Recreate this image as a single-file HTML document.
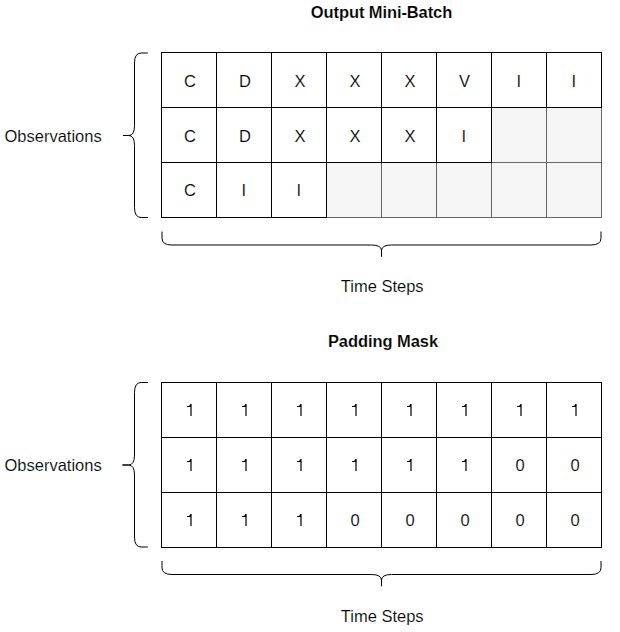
<!DOCTYPE html>
<html><head><meta charset="utf-8"><style>
html,body{margin:0;padding:0;background:#fff;}
svg{display:block;}
text{font-family:"Liberation Sans",sans-serif;font-size:16.5px;fill:#000;stroke:#fff;stroke-width:0.15px;}
</style></head><body>
<svg width="620" height="632" viewBox="0 0 620 632">
<rect width="620" height="632" fill="#fff"/>
<text x="381.5" y="17.7" text-anchor="middle" font-weight="bold" letter-spacing="-0.1">Output Mini-Batch</text>
<rect x="491.5" y="107.5" width="55" height="55" fill="#f5f5f5" stroke="#666"/>
<rect x="546.5" y="107.5" width="55" height="55" fill="#f5f5f5" stroke="#666"/>
<rect x="326.5" y="162.5" width="55" height="55" fill="#f5f5f5" stroke="#666"/>
<rect x="381.5" y="162.5" width="55" height="55" fill="#f5f5f5" stroke="#666"/>
<rect x="436.5" y="162.5" width="55" height="55" fill="#f5f5f5" stroke="#666"/>
<rect x="491.5" y="162.5" width="55" height="55" fill="#f5f5f5" stroke="#666"/>
<rect x="546.5" y="162.5" width="55" height="55" fill="#f5f5f5" stroke="#666"/>
<rect x="161.5" y="52.5" width="55" height="55" fill="#fff" stroke="#000"/>
<rect x="216.5" y="52.5" width="55" height="55" fill="#fff" stroke="#000"/>
<rect x="271.5" y="52.5" width="55" height="55" fill="#fff" stroke="#000"/>
<rect x="326.5" y="52.5" width="55" height="55" fill="#fff" stroke="#000"/>
<rect x="381.5" y="52.5" width="55" height="55" fill="#fff" stroke="#000"/>
<rect x="436.5" y="52.5" width="55" height="55" fill="#fff" stroke="#000"/>
<rect x="491.5" y="52.5" width="55" height="55" fill="#fff" stroke="#000"/>
<rect x="546.5" y="52.5" width="55" height="55" fill="#fff" stroke="#000"/>
<rect x="161.5" y="107.5" width="55" height="55" fill="#fff" stroke="#000"/>
<rect x="216.5" y="107.5" width="55" height="55" fill="#fff" stroke="#000"/>
<rect x="271.5" y="107.5" width="55" height="55" fill="#fff" stroke="#000"/>
<rect x="326.5" y="107.5" width="55" height="55" fill="#fff" stroke="#000"/>
<rect x="381.5" y="107.5" width="55" height="55" fill="#fff" stroke="#000"/>
<rect x="436.5" y="107.5" width="55" height="55" fill="#fff" stroke="#000"/>
<rect x="161.5" y="162.5" width="55" height="55" fill="#fff" stroke="#000"/>
<rect x="216.5" y="162.5" width="55" height="55" fill="#fff" stroke="#000"/>
<rect x="271.5" y="162.5" width="55" height="55" fill="#fff" stroke="#000"/>
<text x="190.0" y="87.0" text-anchor="middle">C</text>
<text x="245.0" y="87.0" text-anchor="middle">D</text>
<text x="300.0" y="87.0" text-anchor="middle">X</text>
<text x="355.0" y="87.0" text-anchor="middle">X</text>
<text x="410.0" y="87.0" text-anchor="middle">X</text>
<text x="464.5" y="87.0" text-anchor="middle">V</text>
<text x="518.7" y="87.0" text-anchor="middle">I</text>
<text x="573.7" y="87.0" text-anchor="middle">I</text>
<text x="190.0" y="142.0" text-anchor="middle">C</text>
<text x="245.0" y="142.0" text-anchor="middle">D</text>
<text x="300.0" y="142.0" text-anchor="middle">X</text>
<text x="355.0" y="142.0" text-anchor="middle">X</text>
<text x="410.0" y="142.0" text-anchor="middle">X</text>
<text x="463.7" y="142.0" text-anchor="middle">I</text>
<text x="190.0" y="196.0" text-anchor="middle">C</text>
<text x="243.7" y="196.0" text-anchor="middle">I</text>
<text x="298.7" y="196.0" text-anchor="middle">I</text>
<path d="M147.8,53.0 L141.15,53.0 Q134.5,53.0 134.5,63.0 L134.5,125.5 Q134.5,135.5 128.75,135.5 L123,135.5 M123,135.5 L128.75,135.5 Q134.5,135.5 134.5,145.5 L134.5,207.5 Q134.5,217.5 141.15,217.5 L147.8,217.5" fill="none" stroke="#000" stroke-width="1"/>
<path d="M162,231.5 L162,238.25 Q162,245.0 172,245.0 L371.5,245.0 Q381.5,245.0 381.5,250.75 L381.5,256.5 M381.5,256.5 L381.5,250.75 Q381.5,245.0 391.5,245.0 L591,245.0 Q601,245.0 601,238.25 L601,231.5" fill="none" stroke="#000" stroke-width="1"/>
<text x="4.5" y="141.8">Observations</text>
<text x="382.2" y="291.5" text-anchor="middle">Time Steps</text>
<text x="383" y="347.0" text-anchor="middle" font-weight="bold" letter-spacing="-0.07">Padding Mask</text>
<rect x="161.5" y="382.5" width="55" height="55" fill="#fff" stroke="#000"/>
<rect x="216.5" y="382.5" width="55" height="55" fill="#fff" stroke="#000"/>
<rect x="271.5" y="382.5" width="55" height="55" fill="#fff" stroke="#000"/>
<rect x="326.5" y="382.5" width="55" height="55" fill="#fff" stroke="#000"/>
<rect x="381.5" y="382.5" width="55" height="55" fill="#fff" stroke="#000"/>
<rect x="436.5" y="382.5" width="55" height="55" fill="#fff" stroke="#000"/>
<rect x="491.5" y="382.5" width="55" height="55" fill="#fff" stroke="#000"/>
<rect x="546.5" y="382.5" width="55" height="55" fill="#fff" stroke="#000"/>
<rect x="161.5" y="437.5" width="55" height="55" fill="#fff" stroke="#000"/>
<rect x="216.5" y="437.5" width="55" height="55" fill="#fff" stroke="#000"/>
<rect x="271.5" y="437.5" width="55" height="55" fill="#fff" stroke="#000"/>
<rect x="326.5" y="437.5" width="55" height="55" fill="#fff" stroke="#000"/>
<rect x="381.5" y="437.5" width="55" height="55" fill="#fff" stroke="#000"/>
<rect x="436.5" y="437.5" width="55" height="55" fill="#fff" stroke="#000"/>
<rect x="491.5" y="437.5" width="55" height="55" fill="#fff" stroke="#000"/>
<rect x="546.5" y="437.5" width="55" height="55" fill="#fff" stroke="#000"/>
<rect x="161.5" y="492.5" width="55" height="55" fill="#fff" stroke="#000"/>
<rect x="216.5" y="492.5" width="55" height="55" fill="#fff" stroke="#000"/>
<rect x="271.5" y="492.5" width="55" height="55" fill="#fff" stroke="#000"/>
<rect x="326.5" y="492.5" width="55" height="55" fill="#fff" stroke="#000"/>
<rect x="381.5" y="492.5" width="55" height="55" fill="#fff" stroke="#000"/>
<rect x="436.5" y="492.5" width="55" height="55" fill="#fff" stroke="#000"/>
<rect x="491.5" y="492.5" width="55" height="55" fill="#fff" stroke="#000"/>
<rect x="546.5" y="492.5" width="55" height="55" fill="#fff" stroke="#000"/>
<path d="M191.60,416.00 L190.40,416.00 L190.40,407.00 L187.10,407.00 L187.10,406.00 L188.60,406.00 Q189.60,405.60 190.40,403.90 L191.60,403.90 Z" fill="#000"/>
<path d="M246.60,416.00 L245.40,416.00 L245.40,407.00 L242.10,407.00 L242.10,406.00 L243.60,406.00 Q244.60,405.60 245.40,403.90 L246.60,403.90 Z" fill="#000"/>
<path d="M301.60,416.00 L300.40,416.00 L300.40,407.00 L297.10,407.00 L297.10,406.00 L298.60,406.00 Q299.60,405.60 300.40,403.90 L301.60,403.90 Z" fill="#000"/>
<path d="M356.60,416.00 L355.40,416.00 L355.40,407.00 L352.10,407.00 L352.10,406.00 L353.60,406.00 Q354.60,405.60 355.40,403.90 L356.60,403.90 Z" fill="#000"/>
<path d="M411.60,416.00 L410.40,416.00 L410.40,407.00 L407.10,407.00 L407.10,406.00 L408.60,406.00 Q409.60,405.60 410.40,403.90 L411.60,403.90 Z" fill="#000"/>
<path d="M466.60,416.00 L465.40,416.00 L465.40,407.00 L462.10,407.00 L462.10,406.00 L463.60,406.00 Q464.60,405.60 465.40,403.90 L466.60,403.90 Z" fill="#000"/>
<path d="M521.60,416.00 L520.40,416.00 L520.40,407.00 L517.10,407.00 L517.10,406.00 L518.60,406.00 Q519.60,405.60 520.40,403.90 L521.60,403.90 Z" fill="#000"/>
<path d="M576.60,416.00 L575.40,416.00 L575.40,407.00 L572.10,407.00 L572.10,406.00 L573.60,406.00 Q574.60,405.60 575.40,403.90 L576.60,403.90 Z" fill="#000"/>
<path d="M191.60,471.00 L190.40,471.00 L190.40,462.00 L187.10,462.00 L187.10,461.00 L188.60,461.00 Q189.60,460.60 190.40,458.90 L191.60,458.90 Z" fill="#000"/>
<path d="M246.60,471.00 L245.40,471.00 L245.40,462.00 L242.10,462.00 L242.10,461.00 L243.60,461.00 Q244.60,460.60 245.40,458.90 L246.60,458.90 Z" fill="#000"/>
<path d="M301.60,471.00 L300.40,471.00 L300.40,462.00 L297.10,462.00 L297.10,461.00 L298.60,461.00 Q299.60,460.60 300.40,458.90 L301.60,458.90 Z" fill="#000"/>
<path d="M356.60,471.00 L355.40,471.00 L355.40,462.00 L352.10,462.00 L352.10,461.00 L353.60,461.00 Q354.60,460.60 355.40,458.90 L356.60,458.90 Z" fill="#000"/>
<path d="M411.60,471.00 L410.40,471.00 L410.40,462.00 L407.10,462.00 L407.10,461.00 L408.60,461.00 Q409.60,460.60 410.40,458.90 L411.60,458.90 Z" fill="#000"/>
<path d="M466.60,471.00 L465.40,471.00 L465.40,462.00 L462.10,462.00 L462.10,461.00 L463.60,461.00 Q464.60,460.60 465.40,458.90 L466.60,458.90 Z" fill="#000"/>
<text x="520.0" y="471.0" text-anchor="middle">0</text>
<text x="575.0" y="471.0" text-anchor="middle">0</text>
<path d="M191.60,526.00 L190.40,526.00 L190.40,517.00 L187.10,517.00 L187.10,516.00 L188.60,516.00 Q189.60,515.60 190.40,513.90 L191.60,513.90 Z" fill="#000"/>
<path d="M246.60,526.00 L245.40,526.00 L245.40,517.00 L242.10,517.00 L242.10,516.00 L243.60,516.00 Q244.60,515.60 245.40,513.90 L246.60,513.90 Z" fill="#000"/>
<path d="M301.60,526.00 L300.40,526.00 L300.40,517.00 L297.10,517.00 L297.10,516.00 L298.60,516.00 Q299.60,515.60 300.40,513.90 L301.60,513.90 Z" fill="#000"/>
<text x="355.0" y="526.0" text-anchor="middle">0</text>
<text x="410.0" y="526.0" text-anchor="middle">0</text>
<text x="465.0" y="526.0" text-anchor="middle">0</text>
<text x="520.0" y="526.0" text-anchor="middle">0</text>
<text x="575.0" y="526.0" text-anchor="middle">0</text>
<path d="M147.8,382.5 L141.15,382.5 Q134.5,382.5 134.5,392.5 L134.5,455.0 Q134.5,465.0 128.5,465.0 L122.5,465.0 M122.5,465.0 L128.5,465.0 Q134.5,465.0 134.5,475.0 L134.5,537.0 Q134.5,547.0 141.15,547.0 L147.8,547.0" fill="none" stroke="#000" stroke-width="1"/>
<path d="M162,561.0 L162,567.75 Q162,574.5 172,574.5 L371.5,574.5 Q381.5,574.5 381.5,580.35 L381.5,586.2 M381.5,586.2 L381.5,580.35 Q381.5,574.5 391.5,574.5 L591,574.5 Q601,574.5 601,567.75 L601,561.0" fill="none" stroke="#000" stroke-width="1"/>
<text x="4.5" y="471.1">Observations</text>
<text x="382.2" y="621.5" text-anchor="middle">Time Steps</text>
</svg>
</body></html>
